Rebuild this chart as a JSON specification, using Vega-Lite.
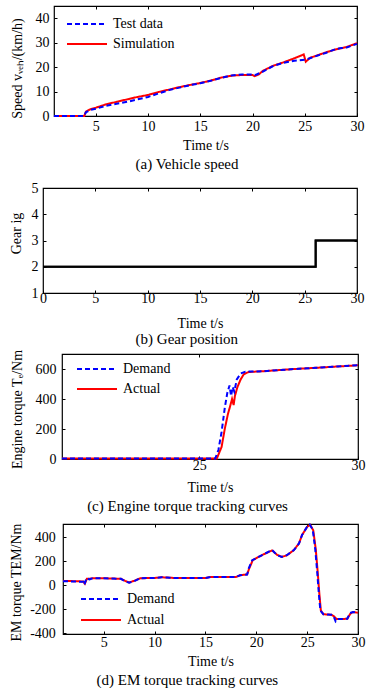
{
  "$schema": "https://vega.github.io/schema/vega-lite/v6.json",
  "padding": {"left": 8, "top": 4, "right": 2, "bottom": 0},
  "spacing": 0,
  "resolve": {"scale": {"color": "independent", "strokeDash": "independent"}},
  "config": {
    "font": "Liberation Serif",
    "view": {"stroke": "black", "strokeWidth": 1.2},
    "axis": {"grid": false, "domain": false, "labelFont": "Liberation Serif", "labelFontSize": 14, "labelColor": "black", "titleFont": "Liberation Serif", "titleFontSize": 14, "titleFontWeight": "normal", "titleColor": "black", "tickColor": "black", "tickSize": -3, "labelFlush": false, "labelOverlap": false},
    "title": {"font": "Liberation Serif", "fontSize": 15, "fontWeight": "normal", "color": "black", "orient": "bottom", "frame": "bounds", "anchor": "middle"},
    "legend": {"title": null, "labelFont": "Liberation Serif", "labelFontSize": 14, "labelColor": "black", "symbolType": "stroke", "symbolSize": 1600, "symbolStrokeWidth": 2, "padding": 0, "clipHeight": 16, "rowPadding": 4, "labelOffset": 5}
  },
  "datasets": {
    "empty": [],
    "speed_sim": [
      {"t": 1, "v": 0, "series": "Simulation"}, {"t": 3.9, "v": 0, "series": "Simulation"}, {"t": 4.05, "v": 1.8, "series": "Simulation"}, {"t": 4.5, "v": 2.8, "series": "Simulation"}, {"t": 5, "v": 3.4, "series": "Simulation"}, {"t": 6, "v": 4.8, "series": "Simulation"}, {"t": 7, "v": 5.8, "series": "Simulation"}, {"t": 8, "v": 6.8, "series": "Simulation"}, {"t": 9, "v": 7.8, "series": "Simulation"}, {"t": 10, "v": 8.6, "series": "Simulation"}, {"t": 11, "v": 9.8, "series": "Simulation"}, {"t": 12, "v": 10.8, "series": "Simulation"}, {"t": 13, "v": 11.8, "series": "Simulation"}, {"t": 14, "v": 12.7, "series": "Simulation"}, {"t": 15, "v": 13.5, "series": "Simulation"}, {"t": 16, "v": 14.5, "series": "Simulation"}, {"t": 17, "v": 15.7, "series": "Simulation"}, {"t": 18, "v": 16.5, "series": "Simulation"}, {"t": 19, "v": 16.8, "series": "Simulation"}, {"t": 20, "v": 16.8, "series": "Simulation"}, {"t": 20.2, "v": 16.3, "series": "Simulation"}, {"t": 20.6, "v": 17.0, "series": "Simulation"}, {"t": 21, "v": 18.5, "series": "Simulation"}, {"t": 22, "v": 20.6, "series": "Simulation"}, {"t": 23, "v": 22.0, "series": "Simulation"}, {"t": 24, "v": 23.6, "series": "Simulation"}, {"t": 24.9, "v": 25.2, "series": "Simulation"}, {"t": 25.1, "v": 22.2, "series": "Simulation"}, {"t": 25.5, "v": 23.8, "series": "Simulation"}, {"t": 26, "v": 24.5, "series": "Simulation"}, {"t": 27, "v": 26.0, "series": "Simulation"}, {"t": 28, "v": 27.3, "series": "Simulation"}, {"t": 29, "v": 28.2, "series": "Simulation"}, {"t": 30, "v": 29.8, "series": "Simulation"}
    ],
    "speed_test": [
      {"t": 1, "v": 0, "series": "Test data"}, {"t": 3.9, "v": 0, "series": "Test data"}, {"t": 4.05, "v": 1.5, "series": "Test data"}, {"t": 4.5, "v": 2.5, "series": "Test data"}, {"t": 5, "v": 3.0, "series": "Test data"}, {"t": 6, "v": 4.2, "series": "Test data"}, {"t": 7, "v": 5.0, "series": "Test data"}, {"t": 8, "v": 5.8, "series": "Test data"}, {"t": 9, "v": 6.8, "series": "Test data"}, {"t": 10, "v": 7.8, "series": "Test data"}, {"t": 11, "v": 9.2, "series": "Test data"}, {"t": 12, "v": 10.6, "series": "Test data"}, {"t": 13, "v": 11.6, "series": "Test data"}, {"t": 14, "v": 12.6, "series": "Test data"}, {"t": 15, "v": 13.4, "series": "Test data"}, {"t": 16, "v": 14.4, "series": "Test data"}, {"t": 17, "v": 15.6, "series": "Test data"}, {"t": 18, "v": 16.6, "series": "Test data"}, {"t": 19, "v": 17.0, "series": "Test data"}, {"t": 20, "v": 17.0, "series": "Test data"}, {"t": 20.3, "v": 16.8, "series": "Test data"}, {"t": 21, "v": 18.2, "series": "Test data"}, {"t": 22, "v": 20.5, "series": "Test data"}, {"t": 23, "v": 21.8, "series": "Test data"}, {"t": 24, "v": 22.6, "series": "Test data"}, {"t": 25, "v": 23.0, "series": "Test data"}, {"t": 25.5, "v": 23.6, "series": "Test data"}, {"t": 26, "v": 24.4, "series": "Test data"}, {"t": 27, "v": 25.8, "series": "Test data"}, {"t": 28, "v": 27.4, "series": "Test data"}, {"t": 28.5, "v": 27.8, "series": "Test data"}, {"t": 29, "v": 28.0, "series": "Test data"}, {"t": 30, "v": 29.5, "series": "Test data"}
    ],
    "gear": [
      {"t": 0, "gear": 2}, {"t": 26.05, "gear": 3}, {"t": 30, "gear": 3}
    ],
    "eng_act": [
      {"t": 20.67, "T": 3, "series": "Actual"}, {"t": 25.55, "T": 3, "series": "Actual"}, {"t": 25.7, "T": 80, "series": "Actual"}, {"t": 25.8, "T": 200, "series": "Actual"}, {"t": 25.9, "T": 300, "series": "Actual"}, {"t": 25.98, "T": 360, "series": "Actual"}, {"t": 26.03, "T": 400, "series": "Actual"}, {"t": 26.08, "T": 360, "series": "Actual"}, {"t": 26.12, "T": 420, "series": "Actual"}, {"t": 26.2, "T": 480, "series": "Actual"}, {"t": 26.3, "T": 530, "series": "Actual"}, {"t": 26.4, "T": 565, "series": "Actual"}, {"t": 26.55, "T": 580, "series": "Actual"}, {"t": 27, "T": 585, "series": "Actual"}, {"t": 28, "T": 600, "series": "Actual"}, {"t": 29, "T": 612, "series": "Actual"}, {"t": 30, "T": 625, "series": "Actual"}
    ],
    "eng_dem": [
      {"t": 20.67, "T": 3, "series": "Demand"}, {"t": 25.5, "T": 3, "series": "Demand"}, {"t": 25.6, "T": 60, "series": "Demand"}, {"t": 25.7, "T": 180, "series": "Demand"}, {"t": 25.8, "T": 340, "series": "Demand"}, {"t": 25.88, "T": 440, "series": "Demand"}, {"t": 25.95, "T": 490, "series": "Demand"}, {"t": 26.0, "T": 420, "series": "Demand"}, {"t": 26.05, "T": 480, "series": "Demand"}, {"t": 26.1, "T": 450, "series": "Demand"}, {"t": 26.18, "T": 530, "series": "Demand"}, {"t": 26.3, "T": 570, "series": "Demand"}, {"t": 26.45, "T": 582, "series": "Demand"}, {"t": 27, "T": 585, "series": "Demand"}, {"t": 28, "T": 600, "series": "Demand"}, {"t": 29, "T": 612, "series": "Demand"}, {"t": 30, "T": 625, "series": "Demand"}
    ],
    "em_act": [
      {"t": 1, "T": 38, "series": "Actual"}, {"t": 3.0, "T": 33, "series": "Actual"}, {"t": 3.15, "T": 15, "series": "Actual"}, {"t": 3.35, "T": 55, "series": "Actual"}, {"t": 3.6, "T": 55, "series": "Actual"}, {"t": 3.9, "T": 60, "series": "Actual"}, {"t": 5, "T": 60, "series": "Actual"}, {"t": 6.7, "T": 55, "series": "Actual"}, {"t": 7.1, "T": 38, "series": "Actual"}, {"t": 7.5, "T": 25, "series": "Actual"}, {"t": 8, "T": 38, "series": "Actual"}, {"t": 8.6, "T": 60, "series": "Actual"}, {"t": 10, "T": 62, "series": "Actual"}, {"t": 10.7, "T": 68, "series": "Actual"}, {"t": 12, "T": 62, "series": "Actual"}, {"t": 15, "T": 62, "series": "Actual"}, {"t": 15.5, "T": 70, "series": "Actual"}, {"t": 18, "T": 70, "series": "Actual"}, {"t": 18.4, "T": 84, "series": "Actual"}, {"t": 19.1, "T": 92, "series": "Actual"}, {"t": 19.3, "T": 140, "series": "Actual"}, {"t": 19.65, "T": 210, "series": "Actual"}, {"t": 20.1, "T": 232, "series": "Actual"}, {"t": 20.7, "T": 258, "series": "Actual"}, {"t": 21.55, "T": 292, "series": "Actual"}, {"t": 22.05, "T": 255, "series": "Actual"}, {"t": 22.5, "T": 238, "series": "Actual"}, {"t": 23.0, "T": 250, "series": "Actual"}, {"t": 23.7, "T": 295, "series": "Actual"}, {"t": 24.2, "T": 350, "series": "Actual"}, {"t": 24.5, "T": 420, "series": "Actual"}, {"t": 25.0, "T": 488, "series": "Actual"}, {"t": 25.3, "T": 505, "series": "Actual"}, {"t": 25.6, "T": 460, "series": "Actual"}, {"t": 25.85, "T": 300, "series": "Actual"}, {"t": 26.05, "T": 100, "series": "Actual"}, {"t": 26.2, "T": -70, "series": "Actual"}, {"t": 26.35, "T": -210, "series": "Actual"}, {"t": 26.6, "T": -240, "series": "Actual"}, {"t": 27.4, "T": -245, "series": "Actual"}, {"t": 27.6, "T": -255, "series": "Actual"}, {"t": 27.9, "T": -280, "series": "Actual"}, {"t": 28.5, "T": -280, "series": "Actual"}, {"t": 28.95, "T": -278, "series": "Actual"}, {"t": 29.25, "T": -235, "series": "Actual"}, {"t": 29.5, "T": -222, "series": "Actual"}, {"t": 30, "T": -228, "series": "Actual"}
    ],
    "em_dem": [
      {"t": 1, "T": 35, "series": "Demand"}, {"t": 3.0, "T": 30, "series": "Demand"}, {"t": 3.1, "T": 5, "series": "Demand"}, {"t": 3.3, "T": 60, "series": "Demand"}, {"t": 3.6, "T": 50, "series": "Demand"}, {"t": 3.9, "T": 60, "series": "Demand"}, {"t": 5, "T": 60, "series": "Demand"}, {"t": 6.7, "T": 55, "series": "Demand"}, {"t": 7.1, "T": 35, "series": "Demand"}, {"t": 7.5, "T": 22, "series": "Demand"}, {"t": 8, "T": 35, "series": "Demand"}, {"t": 8.6, "T": 60, "series": "Demand"}, {"t": 10, "T": 62, "series": "Demand"}, {"t": 10.7, "T": 68, "series": "Demand"}, {"t": 12, "T": 62, "series": "Demand"}, {"t": 15, "T": 62, "series": "Demand"}, {"t": 15.5, "T": 70, "series": "Demand"}, {"t": 18, "T": 70, "series": "Demand"}, {"t": 18.4, "T": 84, "series": "Demand"}, {"t": 19.1, "T": 90, "series": "Demand"}, {"t": 19.25, "T": 140, "series": "Demand"}, {"t": 19.6, "T": 210, "series": "Demand"}, {"t": 20.1, "T": 232, "series": "Demand"}, {"t": 20.7, "T": 258, "series": "Demand"}, {"t": 21.55, "T": 295, "series": "Demand"}, {"t": 22.05, "T": 252, "series": "Demand"}, {"t": 22.5, "T": 238, "series": "Demand"}, {"t": 23.0, "T": 252, "series": "Demand"}, {"t": 23.7, "T": 295, "series": "Demand"}, {"t": 24.2, "T": 350, "series": "Demand"}, {"t": 24.5, "T": 420, "series": "Demand"}, {"t": 25.0, "T": 490, "series": "Demand"}, {"t": 25.25, "T": 508, "series": "Demand"}, {"t": 25.55, "T": 465, "series": "Demand"}, {"t": 25.8, "T": 300, "series": "Demand"}, {"t": 26.0, "T": 100, "series": "Demand"}, {"t": 26.15, "T": -70, "series": "Demand"}, {"t": 26.3, "T": -210, "series": "Demand"}, {"t": 26.6, "T": -240, "series": "Demand"}, {"t": 27.4, "T": -245, "series": "Demand"}, {"t": 27.6, "T": -255, "series": "Demand"}, {"t": 27.8, "T": -300, "series": "Demand"}, {"t": 28.0, "T": -280, "series": "Demand"}, {"t": 28.5, "T": -280, "series": "Demand"}, {"t": 28.95, "T": -278, "series": "Demand"}, {"t": 29.2, "T": -230, "series": "Demand"}, {"t": 29.5, "T": -222, "series": "Demand"}, {"t": 30, "T": -228, "series": "Demand"}
    ]
  },
  "vconcat": [
    {
      "spacing": 0,
      "resolve": {"scale": {"color": "independent", "strokeDash": "independent"}},
      "hconcat": [
        {"width": 1, "height": 174, "view": {"stroke": null}, "data": {"name": "empty"}, "mark": "rule", "encoding": {}},
        {
          "width": 303, "height": 110,
          "title": {"text": "(a) Vehicle speed", "offset": 4},
          "resolve": {"axis": {"x": "independent", "y": "independent"}},
          "encoding": {
            "x": {"field": "t", "type": "quantitative", "scale": {"domain": [1, 30], "nice": false}, "axis": {"title": "Time t/s", "values": [5, 10, 15, 20, 25, 30], "labelPadding": 6.5, "titlePadding": 5}},
            "y": {"field": "v", "type": "quantitative", "scale": {"domain": [0, 45], "nice": false}, "axis": {"title": "Speed vᵥₑₕ/(km/h)", "titleY": 62, "values": [0, 10, 20, 30, 40], "labelPadding": 8, "titlePadding": 11}},
            "color": {"field": "series", "type": "nominal", "scale": {"domain": ["Test data", "Simulation"], "range": ["#0000ff", "#ff0000"]}, "legend": {"orient": "top-left", "offset": 10, "symbolOffset": 2}},
            "strokeDash": {"field": "series", "type": "nominal", "scale": {"domain": ["Test data", "Simulation"], "range": [[5, 3], [1, 0]]}}
          },
          "layer": [
            {"data": {"name": "speed_sim"}, "mark": {"type": "line", "strokeWidth": 2}},
            {"data": {"name": "speed_test"}, "mark": {"type": "line", "strokeWidth": 2},
             "encoding": {
               "x": {"field": "t", "type": "quantitative", "scale": {"domain": [1, 30], "nice": false}, "axis": {"orient": "top", "labels": false, "title": null, "values": [5, 10, 15, 20, 25, 30]}},
               "y": {"field": "v", "type": "quantitative", "scale": {"domain": [0, 45], "nice": false}, "axis": {"orient": "right", "labels": false, "title": null, "values": [0, 10, 20, 30, 40]}}
             }}
          ]
        }
      ]
    },
    {
      "spacing": 0,
      "hconcat": [
        {"width": 1, "height": 1, "view": {"stroke": null}, "data": {"name": "empty"}, "mark": "rule", "encoding": {}},
        {
          "width": 314, "height": 105,
          "title": {"text": "(b) Gear position", "offset": 1},
          "data": {"name": "gear"},
          "resolve": {"axis": {"x": "independent", "y": "independent"}},
          "layer": [
            {"mark": {"type": "line", "interpolate": "step-after", "color": "black", "strokeWidth": 2},
             "encoding": {
               "x": {"field": "t", "type": "quantitative", "scale": {"domain": [0, 30], "nice": false}, "axis": {"title": "Time t/s", "values": [0, 5, 10, 15, 20, 25, 30], "labelPadding": 1.5, "titlePadding": 11}},
               "y": {"field": "gear", "type": "quantitative", "scale": {"domain": [1, 5], "nice": false}, "axis": {"title": "Gear ig", "titleY": 45, "values": [1, 2, 3, 4, 5], "labelPadding": 8, "titlePadding": 7.3}}
             }},
            {"mark": {"type": "line", "interpolate": "step-after", "color": "black", "strokeWidth": 2},
             "encoding": {
               "x": {"field": "t", "type": "quantitative", "scale": {"domain": [0, 30], "nice": false}, "axis": {"orient": "top", "labels": false, "title": null, "values": [5, 10, 15, 20, 25]}},
               "y": {"field": "gear", "type": "quantitative", "scale": {"domain": [1, 5], "nice": false}, "axis": {"orient": "right", "labels": false, "title": null, "values": [2, 3, 4]}}
             }}
          ]
        }
      ]
    },
    {
      "spacing": 0,
      "resolve": {"scale": {"color": "independent", "strokeDash": "independent"}},
      "hconcat": [
        {"width": 1, "height": 164.5, "view": {"stroke": null}, "data": {"name": "empty"}, "mark": "rule", "encoding": {}},
        {
          "width": 296, "height": 105,
          "title": {"text": "(c) Engine torque tracking curves", "offset": 4},
          "resolve": {"axis": {"x": "independent", "y": "independent"}},
          "encoding": {
            "x": {"field": "t", "type": "quantitative", "scale": {"domain": [20.67, 30], "nice": false}, "axis": {"title": "Time t/s", "values": [25, 30], "labelPadding": 2.5, "titlePadding": 8}},
            "y": {"field": "T", "type": "quantitative", "scale": {"domain": [0, 700], "nice": false}, "axis": {"title": "Engine torque Tₑ/Nm", "titleY": 55, "values": [0, 200, 400, 600], "labelPadding": 9, "titlePadding": 11}},
            "color": {"field": "series", "type": "nominal", "scale": {"domain": ["Demand", "Actual"], "range": ["#0000ff", "#ff0000"]}, "legend": {"orient": "top-left", "offset": 7, "symbolOffset": 7}},
            "strokeDash": {"field": "series", "type": "nominal", "scale": {"domain": ["Demand", "Actual"], "range": [[5, 3], [1, 0]]}}
          },
          "layer": [
            {"data": {"name": "eng_act"}, "mark": {"type": "line", "strokeWidth": 2}},
            {"data": {"name": "eng_dem"}, "mark": {"type": "line", "strokeWidth": 2},
             "encoding": {
               "x": {"field": "t", "type": "quantitative", "scale": {"domain": [20.67, 30], "nice": false}, "axis": {"orient": "top", "labels": false, "title": null, "values": [25]}},
               "y": {"field": "T", "type": "quantitative", "scale": {"domain": [0, 700], "nice": false}, "axis": {"orient": "right", "labels": false, "title": null, "values": [200, 400, 600]}}
             }}
          ]
        }
      ]
    },
    {
      "spacing": 0,
      "resolve": {"scale": {"color": "independent", "strokeDash": "independent"}},
      "hconcat": [
        {"width": 1, "height": 1, "view": {"stroke": null}, "data": {"name": "empty"}, "mark": "rule", "encoding": {}},
        {
          "width": 295, "height": 110,
          "title": {"text": "(d) EM torque tracking curves", "offset": 4},
          "resolve": {"axis": {"x": "independent", "y": "independent"}},
          "encoding": {
            "x": {"field": "t", "type": "quantitative", "scale": {"domain": [1, 30], "nice": false}, "axis": {"title": "Time t/s", "values": [5, 10, 15, 20, 25, 30], "labelPadding": 4.8, "titlePadding": 5}},
            "y": {"field": "T", "type": "quantitative", "scale": {"domain": [-405, 512], "nice": false}, "axis": {"title": "EM torque TEM/Nm", "titleY": 58, "values": [-400, -200, 0, 200, 400], "labelExpr": "replace(datum.label, '−', '-')", "labelPadding": 10.7, "titlePadding": 6}},
            "color": {"field": "series", "type": "nominal", "scale": {"domain": ["Demand", "Actual"], "range": ["#0000ff", "#ff0000"]}, "legend": {"orient": "bottom-left", "offset": 6, "symbolOffset": 11, "rowPadding": 5}},
            "strokeDash": {"field": "series", "type": "nominal", "scale": {"domain": ["Demand", "Actual"], "range": [[5, 3], [1, 0]]}}
          },
          "layer": [
            {"data": {"name": "em_act"}, "mark": {"type": "line", "strokeWidth": 2}},
            {"data": {"name": "em_dem"}, "mark": {"type": "line", "strokeWidth": 2},
             "encoding": {
               "x": {"field": "t", "type": "quantitative", "scale": {"domain": [1, 30], "nice": false}, "axis": {"orient": "top", "labels": false, "title": null, "values": [5, 10, 15, 20, 25]}},
               "y": {"field": "T", "type": "quantitative", "scale": {"domain": [-405, 512], "nice": false}, "axis": {"orient": "right", "labels": false, "title": null, "values": [-200, 0, 200, 400]}}
             }}
          ]
        }
      ]
    }
  ]
}
